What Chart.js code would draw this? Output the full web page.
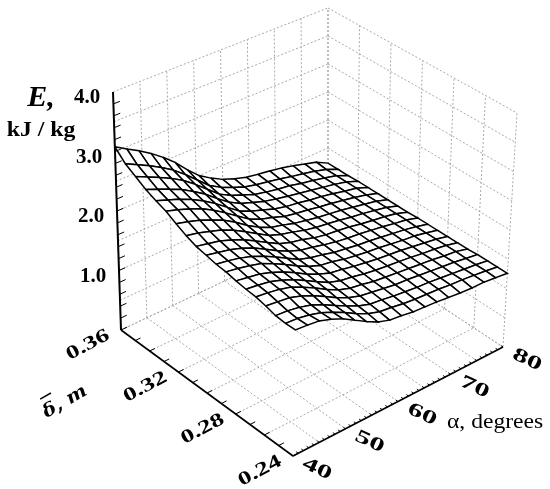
<!DOCTYPE html>
<html>
<head>
<meta charset="utf-8">
<style>
  html, body { margin: 0; padding: 0; background: #fff; }
  canvas { display: block; }
</style>
<script src="https://cdn.jsdelivr.net/npm/chart.js@4"></script>
</head>
<body>
<canvas id="surfaceChart" width="550" height="489"></canvas>
<script>
// Sample grid of the surface
const alphaNodes = [40,42.22,44.44,46.67,48.89,51.11,53.33,55.56,57.78,60,62.22,64.44,66.67,68.89,71.11,73.33,75.56,77.78,80];
const deltaNodes = [0.36,0.3533,0.3467,0.34,0.3333,0.3267,0.32,0.3133,0.3067,0.3,0.2933,0.2867,0.28,0.2733,0.2667,0.26,0.2533,0.2467,0.24];
// one row per delta, one column per alpha, kJ / kg
const energyRows = [
  [3.08,2.96,2.85,2.72,2.57,2.40,2.19,2.00,1.87,1.76,1.68,1.62,1.58,1.55,1.51,1.46,1.40,1.34,1.23],
  [2.90,2.80,2.70,2.59,2.46,2.30,2.12,1.94,1.82,1.73,1.65,1.60,1.56,1.52,1.47,1.43,1.38,1.32,1.23],
  [2.79,2.70,2.61,2.51,2.39,2.24,2.07,1.90,1.79,1.71,1.63,1.58,1.54,1.51,1.46,1.42,1.37,1.32,1.23],
  [2.68,2.60,2.52,2.43,2.31,2.18,2.02,1.87,1.76,1.69,1.62,1.57,1.53,1.49,1.45,1.41,1.37,1.32,1.24],
  [2.60,2.53,2.46,2.37,2.26,2.13,1.98,1.83,1.74,1.67,1.60,1.55,1.52,1.48,1.45,1.41,1.36,1.32,1.24],
  [2.53,2.47,2.40,2.32,2.21,2.08,1.94,1.80,1.71,1.65,1.58,1.54,1.51,1.47,1.44,1.40,1.36,1.31,1.24],
  [2.43,2.38,2.32,2.24,2.15,2.03,1.89,1.77,1.68,1.63,1.57,1.53,1.49,1.46,1.43,1.39,1.35,1.31,1.24],
  [2.34,2.30,2.24,2.18,2.09,1.98,1.86,1.74,1.67,1.62,1.56,1.52,1.49,1.46,1.42,1.39,1.35,1.31,1.24],
  [2.27,2.23,2.19,2.12,2.04,1.93,1.82,1.71,1.64,1.60,1.54,1.50,1.48,1.45,1.41,1.38,1.35,1.31,1.24],
  [2.23,2.19,2.15,2.09,2.01,1.90,1.79,1.69,1.62,1.58,1.53,1.49,1.46,1.44,1.41,1.38,1.34,1.31,1.25],
  [2.19,2.16,2.12,2.06,1.98,1.88,1.77,1.66,1.60,1.56,1.51,1.48,1.45,1.43,1.40,1.37,1.34,1.30,1.25],
  [2.17,2.14,2.10,2.05,1.96,1.86,1.75,1.65,1.58,1.55,1.50,1.47,1.44,1.42,1.39,1.36,1.34,1.30,1.25],
  [2.13,2.10,2.07,2.01,1.93,1.83,1.72,1.63,1.56,1.53,1.49,1.46,1.43,1.41,1.39,1.36,1.33,1.30,1.25],
  [2.10,2.08,2.05,1.99,1.91,1.81,1.70,1.60,1.54,1.51,1.47,1.44,1.42,1.40,1.38,1.35,1.33,1.30,1.25],
  [2.08,2.06,2.03,1.98,1.89,1.79,1.68,1.58,1.52,1.49,1.45,1.43,1.41,1.39,1.37,1.35,1.32,1.30,1.25],
  [2.04,2.02,2.00,1.94,1.86,1.76,1.65,1.56,1.50,1.47,1.44,1.41,1.40,1.38,1.36,1.34,1.32,1.29,1.26],
  [1.99,1.98,1.95,1.90,1.82,1.72,1.62,1.53,1.47,1.45,1.42,1.40,1.38,1.37,1.35,1.33,1.31,1.29,1.26],
  [1.97,1.96,1.93,1.88,1.80,1.71,1.60,1.51,1.45,1.43,1.40,1.38,1.37,1.36,1.34,1.33,1.31,1.29,1.26],
  [1.97,1.96,1.94,1.88,1.80,1.69,1.58,1.48,1.42,1.40,1.37,1.36,1.35,1.33,1.31,1.30,1.30,1.28,1.26]
];

// Axis ticks
const alphaTicks = [40,50,60,70,80];
const deltaTicks = [0.36,0.32,0.28,0.24];
const energyTicks = [1,2,3,4];
const alphaGrid = [40,45,50,55,60,65,70,75,80];
const deltaGrid = [0.36,0.34,0.32,0.30,0.28,0.26,0.24];
const energyGrid = [0,0.5,1,1.5,2,2.5,3,3.5,4];

// Box corners on the page
const corners = {
  floor: { a: [121,330], d: [328,232], b: [293,456], c: [503,347] },
  top:   { a: [113,92],  d: [328,8],   b: [298,200], c: [517,113] }
};

function mix(p, q, t) {
  return [p[0] + (q[0] - p[0]) * t, p[1] + (q[1] - p[1]) * t];
}

// 3D value to a point on the flat x/y scales
function project(alpha, delta, energy) {
  const u = (alpha - 40) / 40;
  const v = (0.36 - delta) / 0.12;
  const w = energy / 4;
  const low = mix(mix(corners.floor.a, corners.floor.d, u), mix(corners.floor.b, corners.floor.c, u), v);
  const high = mix(mix(corners.top.a, corners.top.d, u), mix(corners.top.b, corners.top.c, u), v);
  const p = mix(low, high, w);
  return { x: p[0], y: p[1] };
}

const layers = [];

function addLine(points, color, width, dash) {
  layers.push({
    data: points, showLine: true, pointRadius: 0, borderColor: color,
    borderWidth: width, borderDash: dash || [], tension: 0, fill: false
  });
}

// Dotted walls and floor
const dotted = '#a8a8a8';
const dots = [2, 2];
alphaGrid.forEach(a => {
  addLine([project(a, 0.36, 0), project(a, 0.36, 4)], dotted, 1, dots);
  addLine([project(a, 0.36, 0), project(a, 0.24, 0)], dotted, 1, dots);
});
deltaGrid.forEach(d => {
  addLine([project(80, d, 0), project(80, d, 4)], dotted, 1, dots);
  addLine([project(40, d, 0), project(80, d, 0)], dotted, 1, dots);
});
energyGrid.forEach(e => {
  addLine([project(40, 0.36, e), project(80, 0.36, e)], dotted, 1, dots);
  addLine([project(80, 0.36, e), project(80, 0.24, e)], dotted, 1, dots);
});

// Surface, one closed cell at a time from back to front
for (let j = 0; j < deltaNodes.length - 1; j++) {
  for (let i = alphaNodes.length - 2; i >= 0; i--) {
    const cell = [
      project(alphaNodes[i], deltaNodes[j], energyRows[j][i]),
      project(alphaNodes[i + 1], deltaNodes[j], energyRows[j][i + 1]),
      project(alphaNodes[i + 1], deltaNodes[j + 1], energyRows[j + 1][i + 1]),
      project(alphaNodes[i], deltaNodes[j + 1], energyRows[j + 1][i])
    ];
    cell.push(cell[0]);
    layers.push({
      data: cell, showLine: true, pointRadius: 0, borderColor: '#000', borderWidth: 1.5,
      backgroundColor: '#fff', fill: 'shape', tension: 0
    });
  }
}

// Solid axes
addLine([project(40, 0.36, 0), project(40, 0.36, 4)], '#000', 2);
addLine([project(40, 0.36, 0), project(40, 0.24, 0)], '#000', 1.6);
addLine([project(40, 0.24, 0), project(80, 0.24, 0)], '#000', 1.6);

// Tick marks
for (let e = 0; e <= 4; e += 0.2) {
  addLine([project(40, 0.36, e), project(41.2, 0.36, e)], '#000', 1);
}
for (let d = 0.24; d <= 0.36; d += 0.01) {
  addLine([project(40, d, 0), project(41, d, 0)], '#000', 1);
}
for (let a = 40; a <= 80; a += 1) {
  addLine([project(a, 0.24, 0), project(a, 0.2415, 0)], '#000', 1);
}

// Text is put on by a small plugin, next to the projected ticks
function putText(ctx, text, x, y, font, angle, stretch, align) {
  ctx.save();
  ctx.translate(x, y);
  ctx.rotate(angle * Math.PI / 180);
  ctx.scale(stretch || 1, 1);
  ctx.font = font;
  ctx.fillStyle = '#000';
  ctx.textAlign = align || 'center';
  ctx.textBaseline = 'middle';
  ctx.fillText(text, 0, 0);
  ctx.restore();
}

const axisText = {
  id: 'axisText',
  afterDraw(chart) {
    const ctx = chart.ctx;
    const sx = chart.scales.x;
    const sy = chart.scales.y;
    const sideFont = 'bold 19px "Liberation Serif"';
    energyTicks.forEach(e => {
      const p = project(40, 0.36, e);
      putText(ctx, e.toFixed(1), sx.getPixelForValue(p.x - 26), sy.getPixelForValue(p.y + 6), 'bold 20px "Liberation Serif"', 0, 1.05);
    });
    deltaTicks.forEach(d => {
      const p = project(40, d, 0);
      putText(ctx, d.toFixed(2), sx.getPixelForValue(p.x - 33), sy.getPixelForValue(p.y + 15), sideFont, -28, 1.4);
    });
    alphaTicks.forEach(a => {
      const p = project(a, 0.24, 0);
      putText(ctx, String(a), sx.getPixelForValue(p.x + 24), sy.getPixelForValue(p.y + 13), sideFont, 25, 1.6);
    });
    putText(ctx, 'E,', 41, 98, 'italic bold 30px "Liberation Serif"', 0);
    putText(ctx, 'kJ / kg', 41, 130, 'bold 22px "Liberation Serif"', 0, 1.08);
    putText(ctx, '\u03b4, m', 65, 402, 'bold italic 18px "DejaVu Serif"', -30, 1.1);
    putText(ctx, '\u00af', 50, 404, 'bold 20px "Liberation Serif"', -30, 1.2);
    putText(ctx, '\u03b1, degrees', 447, 423, '20px "Liberation Serif"', 0, 1.18, 'left');
  }
};

// Chart.js paints the first dataset last
new Chart(document.getElementById('surfaceChart').getContext('2d'), {
  type: 'scatter',
  data: { datasets: layers.slice().reverse() },
  options: {
    responsive: false,
    animation: false,
    layout: { padding: 0 },
    plugins: { legend: { display: false }, tooltip: { enabled: false } },
    scales: {
      x: { type: 'linear', display: false, min: 0, max: 550 },
      y: { type: 'linear', display: false, min: 0, max: 489, reverse: true }
    }
  },
  plugins: [axisText]
});
</script>
</body>
</html>
